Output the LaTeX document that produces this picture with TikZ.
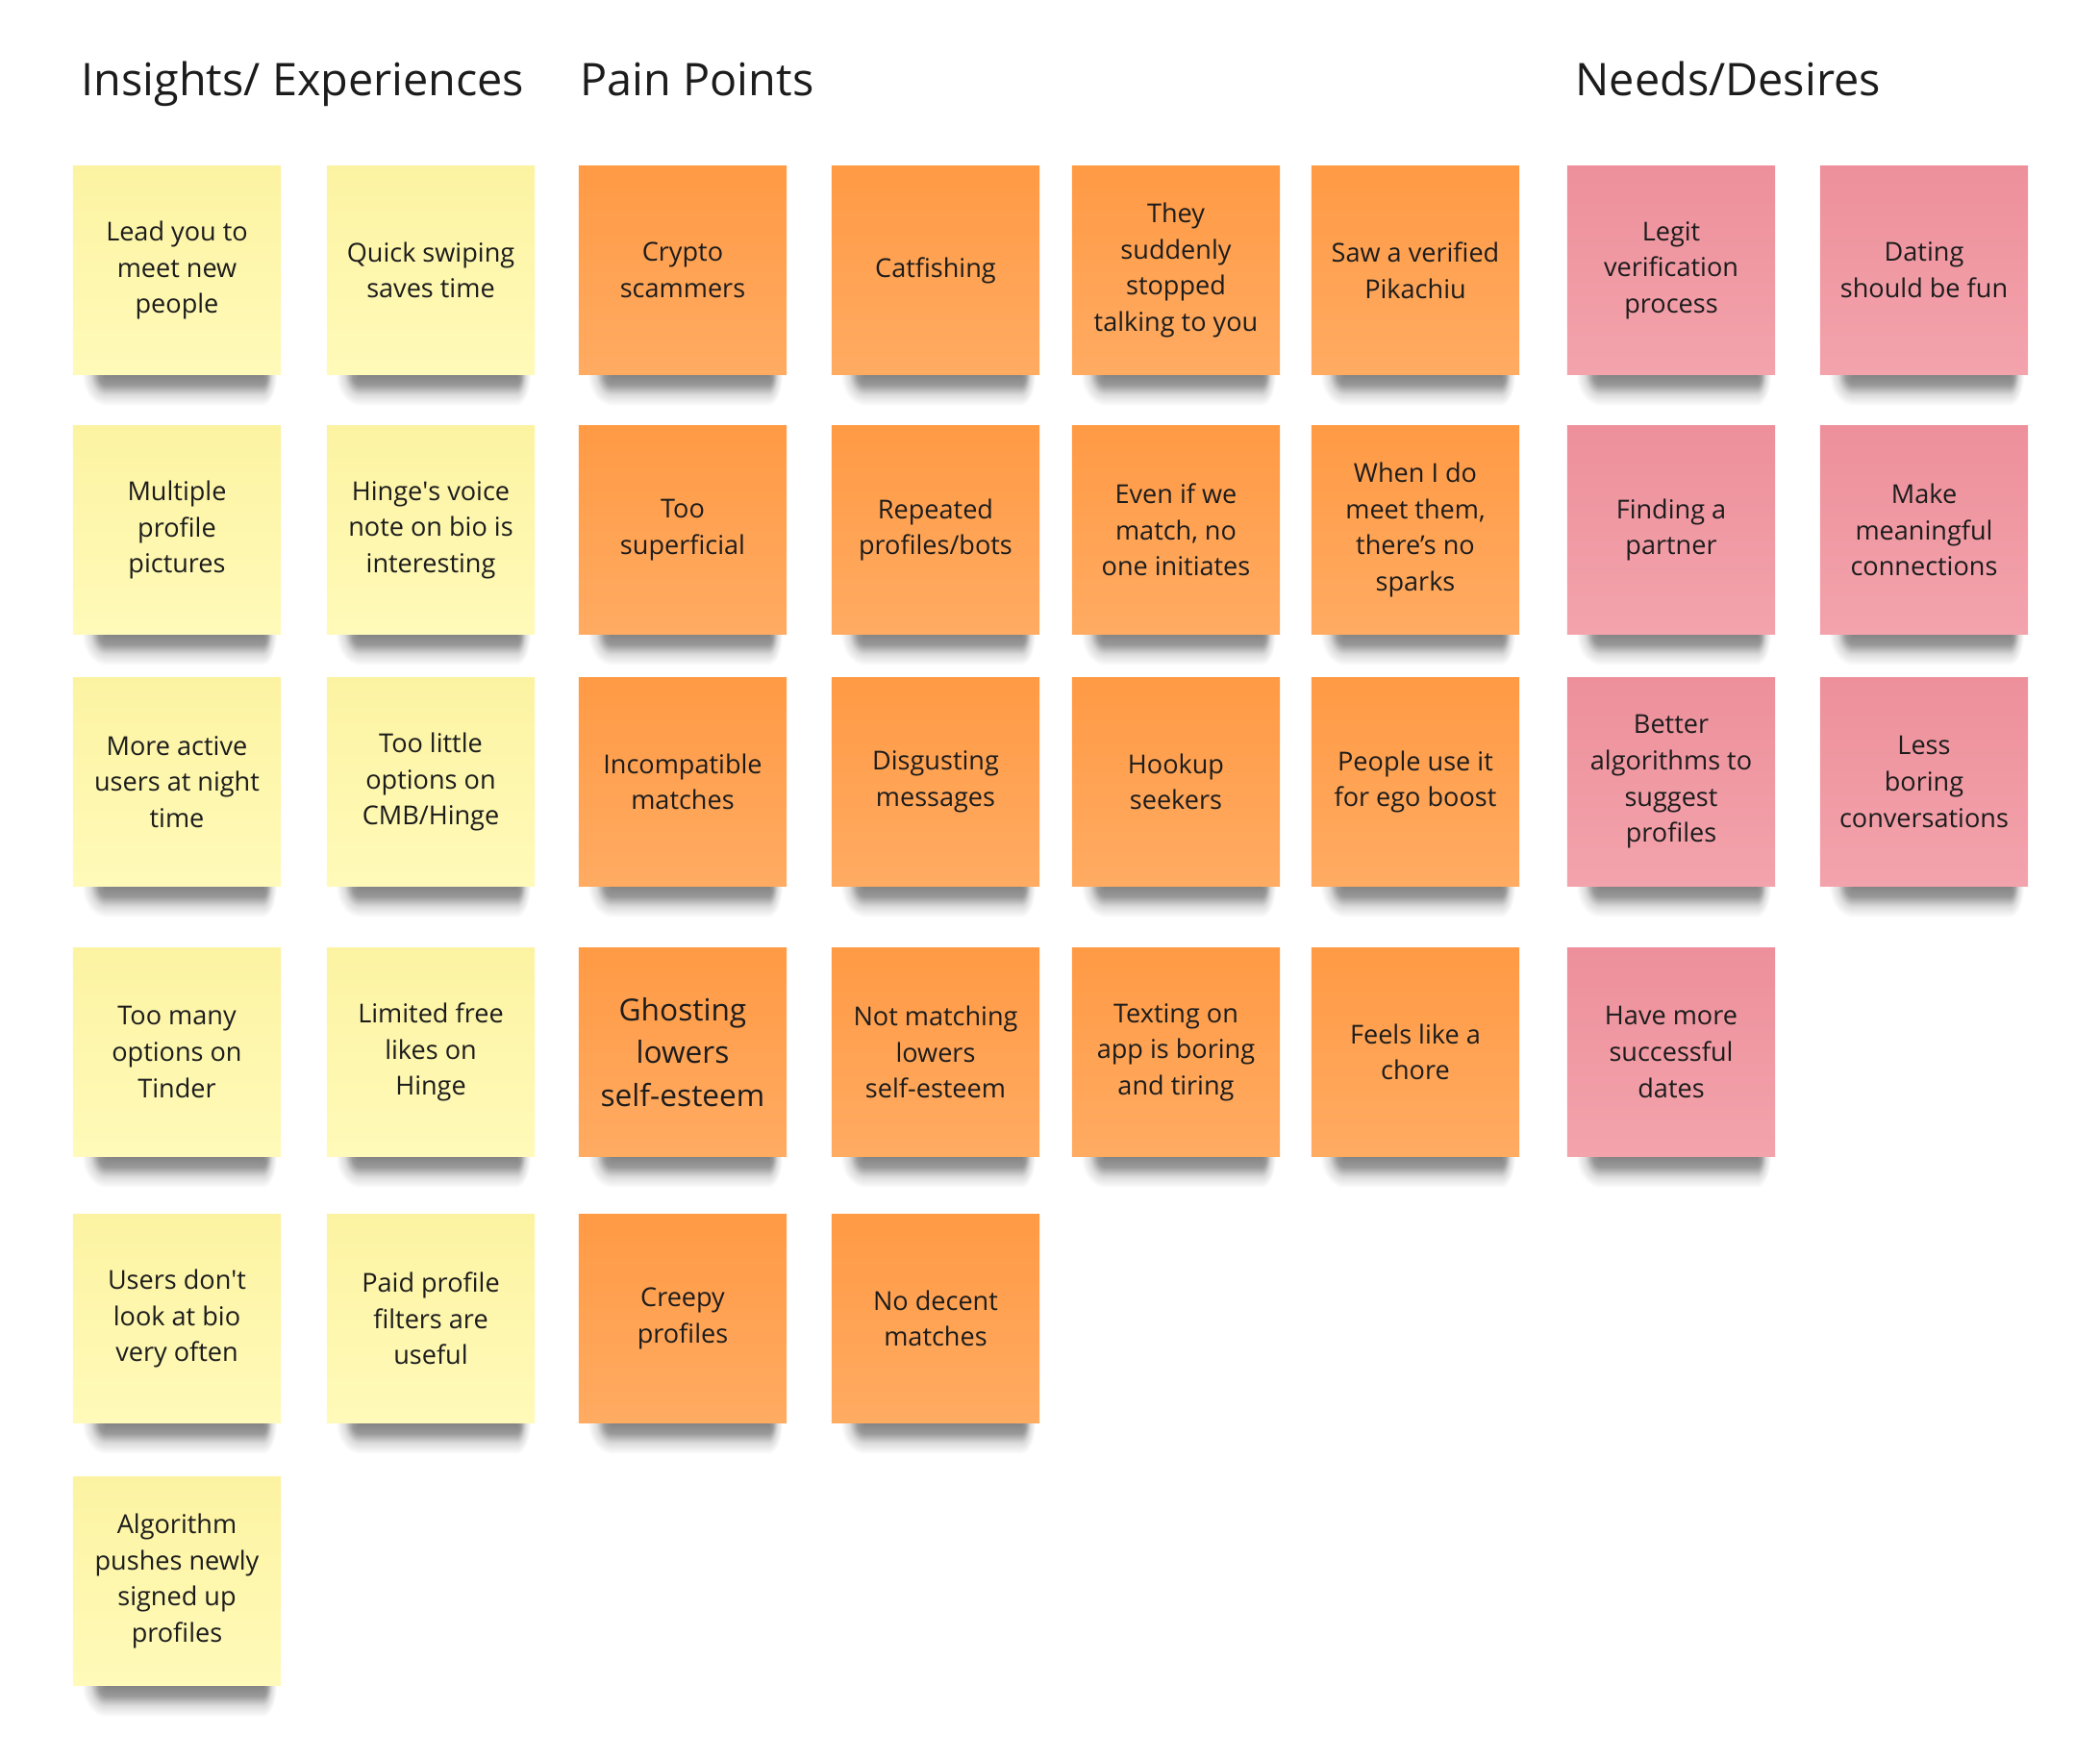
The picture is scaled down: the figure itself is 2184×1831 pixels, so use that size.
\documentclass[tikz,border=0pt]{standalone}
\usepackage{fontspec}
\setmainfont{Open Sans}
\usetikzlibrary{backgrounds}
\definecolor{yeltop}{HTML}{FCF3A2}
\definecolor{yelbot}{HTML}{FFFAB9}
\definecolor{orgtop}{HTML}{FF9A45}
\definecolor{orgbot}{HTML}{FFAB62}
\definecolor{pnktop}{HTML}{ED909B}
\definecolor{pnkbot}{HTML}{F3A3AC}
\definecolor{ink}{HTML}{1C1C1C}
\pgfdeclareverticalshading{dropband}{100bp}{color(0bp)=(white); color(25bp)=(white); color(34bp)=(black!14); color(42bp)=(black!40); color(50bp)=(black!48); color(100bp)=(black!48)}
\pgfdeclareradialshading{dropcap}{\pgfpointorigin}{color(0bp)=(black!48); color(8bp)=(black!40); color(16bp)=(black!14); color(25bp)=(white); color(50bp)=(white)}
\tikzset{
    board/.style={
        note/.append style={align=center,inner sep=0pt,minimum width=2.16cm,minimum height=2.16cm,text=ink,
            font=\fontsize{7.7}{10.7}\selectfont},
        insight/.append style={note,top color=yeltop,bottom color=yelbot},
        pain/.append style={note,top color=orgtop,bottom color=orgbot},
        need/.append style={note,top color=pnktop,bottom color=pnkbot},
        heading/.append style={anchor=base west,inner sep=0pt,text=ink,font=\fontsize{13.3}{16}\selectfont}
    }
}
\newcommand{\notedrop}[1]{%
    \shade[shading=dropcap] ([xshift=0.1cm,yshift=0.32cm]#1.south west) rectangle ([xshift=0.6cm,yshift=-0.32cm]#1.south west);
    \shade[shading=dropcap] ([xshift=-0.35cm,yshift=0.32cm]#1.south east) rectangle ([xshift=-0.05cm,yshift=-0.32cm]#1.south east);
    \shade[shading=dropband] ([xshift=0.35cm,yshift=0.32cm]#1.south west) rectangle ([xshift=-0.2cm,yshift=-0.32cm]#1.south east);
}

\begin{document}
\begin{tikzpicture}[board,x=0.01cm,y=-0.01cm]
    \useasboundingbox (0,0) rectangle (2184,1831);

    \node[heading] (hins) at (84, 100) {Insights/ Experiences};
    \node[heading] (hpain) at (603, 100) {Pain Points};
    \node[heading] (hneed) at (1638, 100) {Needs/Desires};

    \node[insight] (i1) at (184, 281) {Lead you to\\meet new\\people};
    \node[insight] (i2) at (184, 551) {Multiple\\profile\\pictures};
    \node[insight] (i3) at (184, 813) {More active\\users at night\\time};
    \node[insight] (i4) at (184, 1094) {Too many\\options on\\Tinder};
    \node[insight] (i5) at (184, 1371) {Users don\textquotesingle t\\look at bio\\very often};
    \node[insight] (i6) at (184, 1644) {Algorithm\\pushes newly\\signed up\\profiles};

    \node[insight] (i7) at (448, 281) {Quick swiping\\saves time};
    \node[insight] (i8) at (448, 551) {Hinge\textquotesingle s voice\\note on bio is\\interesting};
    \node[insight] (i9) at (448, 813) {Too little\\options on\\CMB/Hinge};
    \node[insight] (i10) at (448, 1094) {Limited free\\likes on\\Hinge};
    \node[insight] (i11) at (448, 1371) {Paid profile\\filters are\\useful};

    \node[pain] (p1) at (710, 281) {Crypto\\scammers};
    \node[pain] (p2) at (710, 551) {Too\\superficial};
    \node[pain] (p3) at (710, 813) {Incompatible\\matches};
    \node[pain,font=\fontsize{9}{12.7}\selectfont] (p4) at (710, 1094) {Ghosting\\lowers\\self-esteem};
    \node[pain] (p5) at (710, 1371) {Creepy\\profiles};

    \node[pain] (p6) at (973, 281) {Catfishing};
    \node[pain] (p7) at (973, 551) {Repeated\\profiles/bots};
    \node[pain] (p8) at (973, 813) {Disgusting\\messages};
    \node[pain] (p9) at (973, 1094) {Not matching\\lowers\\self-esteem};
    \node[pain] (p10) at (973, 1371) {No decent\\matches};

    \node[pain] (p11) at (1223, 281) {They\\suddenly\\stopped\\talking to you};
    \node[pain] (p12) at (1223, 551) {Even if we\\match, no\\one initiates};
    \node[pain] (p13) at (1223, 813) {Hookup\\seekers};
    \node[pain] (p14) at (1223, 1094) {Texting on\\app is boring\\and tiring};

    \node[pain] (p15) at (1472, 281) {Saw a verified\\Pikachiu};
    \node[pain] (p16) at (1472, 551) {When I do\\meet them,\\there’s no\\sparks};
    \node[pain] (p17) at (1472, 813) {People use it\\for ego boost};
    \node[pain] (p18) at (1472, 1094) {Feels like a\\chore};

    \node[need] (n1) at (1738, 281) {Legit\\verification\\process};
    \node[need] (n2) at (1738, 551) {Finding a\\partner};
    \node[need] (n3) at (1738, 813) {Better\\algorithms to\\suggest\\profiles};
    \node[need] (n4) at (1738, 1094) {Have more\\successful\\dates};

    \node[need] (n5) at (2001, 281) {Dating\\should be fun};
    \node[need] (n6) at (2001, 551) {Make\\meaningful\\connections};
    \node[need] (n7) at (2001, 813) {Less\\boring\\conversations};

    \begin{pgfonlayer}{background}
        \fill[white] (0,0) rectangle (2184,1831);
        \foreach \k in {1,...,11} {\notedrop{i\k}}
        \foreach \k in {1,...,18} {\notedrop{p\k}}
        \foreach \k in {1,...,7} {\notedrop{n\k}}
    \end{pgfonlayer}
\end{tikzpicture}
\end{document}
